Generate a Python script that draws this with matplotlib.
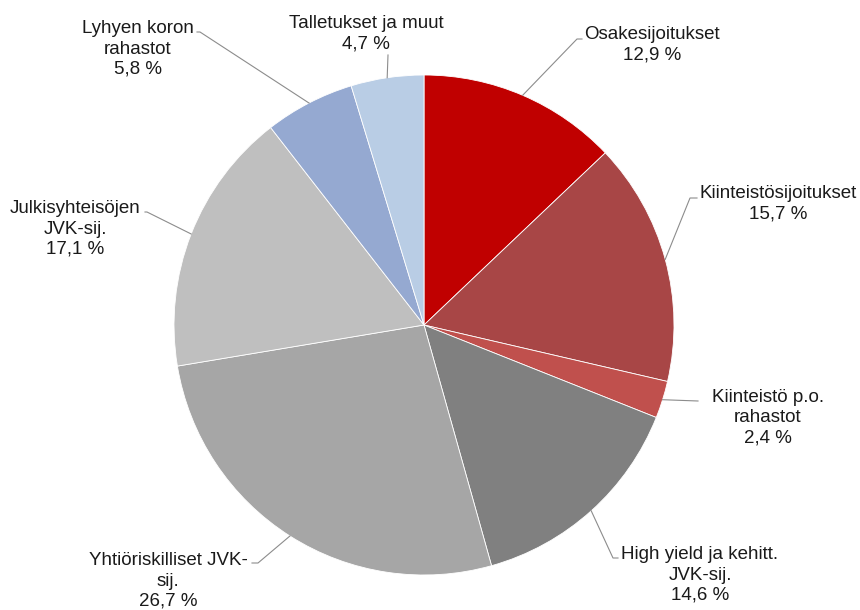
import matplotlib.pyplot as plt
import numpy as np

# sijoitusjakauma, %
labels = ['Osakesijoitukset', 'Kiinteistösijoitukset', 'Kiinteistö p.o.\nrahastot',
          'High yield ja kehitt.\nJVK-sij.', 'Yhtiöriskilliset JVK-\nsij.',
          'Julkisyhteisöjen\nJVK-sij.', 'Lyhyen koron\nrahastot', 'Talletukset ja muut']
values = [12.9, 15.7, 2.4, 14.6, 26.7, 17.1, 5.8, 4.7]
colors = ['#C00000', '#A84646', '#C0504D', '#808080', '#A6A6A6',
          '#BFBFBF', '#95A9D1', '#B9CDE5']

# label block centres and leader elbows (pixel coords, y measured from bottom)
text_pos = [(652, 565), (778, 406), (768, 192), (700, 35),
            (168, 29), (75, 381), (138, 561), (366, 576)]
elbows = [[(577, 571), (582, 571)], [(690, 412), (697, 412)], [(698, 209)],
          [(613, 52), (618, 52)], [(258, 47), (252, 47)], [(147, 398), (145, 398)],
          [(200, 578), (197, 578)], [(388, 555)]]

plt.rcParams['font.family'] = ['Liberation Sans', 'DejaVu Sans']

fig = plt.figure(figsize=(8.6, 6.1), dpi=100)
ax = fig.add_axes([0, 0, 1, 1])
cx, cy, r = 424, 285, 250
wedges, _ = ax.pie(values, colors=colors, startangle=90, counterclock=False,
                   center=(cx, cy), radius=r,
                   wedgeprops=dict(edgecolor='white', linewidth=0.6))
ax.set_xlim(0, 860)
ax.set_ylim(0, 610)
ax.set_aspect('equal')
ax.axis('off')

for w, lab, v, tp, el in zip(wedges, labels, values, text_pos, elbows):
    ang = np.radians((w.theta1 + w.theta2) / 2)
    ax_x, ax_y = cx + r * np.cos(ang), cy + r * np.sin(ang)
    xs = [ax_x] + [p[0] for p in el]
    ys = [ax_y] + [p[1] for p in el]
    ax.plot(xs, ys, color='#8C8C8C', lw=0.8)
    pct = f"{v:.1f}".replace('.', ',')
    ax.text(tp[0], tp[1], f"{lab}\n{pct} %", ha='center', va='center',
            multialignment='center', fontsize=13.5, color='#1A1A1A',
            linespacing=1.25)

fig.savefig('out.png', dpi=100)
